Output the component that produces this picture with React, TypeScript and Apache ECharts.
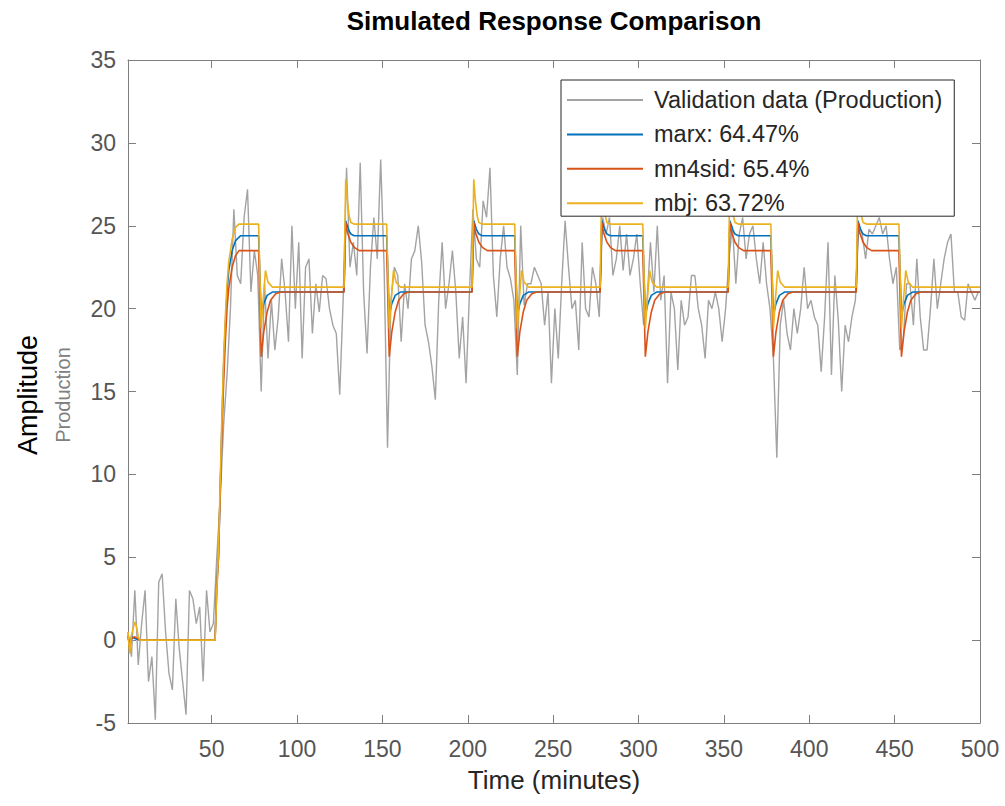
import { useEffect, useRef } from "react";
import * as echarts from "echarts";

const FONT = "'Liberation Sans', Arial, Helvetica, sans-serif";

// Validation data sampled every 2 minutes, starting at t = 1
const validationStart = 1;
const validationStep = 2;
const validationValues = [
  0.5, -1.0, 3.0, -1.5, 1.0, 3.0, -2.5, -1.0, -4.8, 3.5,
  4.0, 0.5, -2.0, -3.0, 2.5, -0.5, -2.5, -4.5, 3.0, 2.5,
  1.0, 2.0, -2.5, 3.0, 0.5, 1.0, 5.0, 8.5, 13.0, 16.0,
  20.0, 26.0, 22.0, 21.5, 25.5, 27.2, 21.0, 23.5, 22.0, 15.0,
  21.5, 17.0, 20.5, 17.5, 19.5, 23.0, 21.0, 18.0, 25.0, 20.0,
  24.0, 17.0, 22.5, 23.0, 18.5, 21.5, 19.8, 22.0, 21.8, 20.0,
  19.0, 18.5, 14.8, 20.5, 28.5, 22.5, 24.0, 22.0, 28.8, 21.0,
  17.3, 22.5, 25.5, 23.0, 29.0, 22.5, 11.6, 20.5, 22.5, 22.0,
  18.0, 21.5, 20.0, 23.0, 23.5, 25.0, 22.8, 19.0, 18.0, 16.5,
  14.5, 20.5, 24.0, 20.0, 21.5, 23.5, 21.0, 17.0, 19.5, 15.5,
  21.0, 26.0, 23.0, 22.5, 26.5, 25.5, 28.5, 22.0, 19.5, 23.0,
  25.0, 22.5, 21.8, 20.5, 16.0, 25.0, 20.2, 21.5, 21.5, 22.5,
  22.0, 21.5, 19.0, 21.0, 15.5, 20.0, 17.0, 21.5, 25.3, 22.5,
  20.0, 20.5, 17.5, 24.0, 20.0, 19.5, 22.5, 21.5, 19.5, 25.5,
  24.5, 25.5, 22.0, 23.0, 25.0, 22.3, 24.5, 22.0, 23.0, 24.5,
  21.5, 19.0, 20.5, 24.0, 21.0, 25.0, 20.5, 22.0, 15.5, 21.0,
  20.0, 16.3, 20.5, 19.0, 19.5, 22.0, 22.0, 20.0, 19.0, 17.0,
  20.5, 20.0, 21.0, 20.0, 18.0, 20.0, 23.0, 25.0, 21.5, 24.5,
  25.5, 23.0, 24.5, 25.0, 23.0, 21.5, 24.0, 21.5, 20.0, 17.0,
  11.0, 19.0, 20.5, 18.5, 17.5, 20.0, 18.5, 20.0, 22.5, 20.0,
  20.5, 19.5, 19.0, 16.2, 19.5, 24.0, 16.0, 22.0, 19.3, 15.0,
  19.0, 18.0, 19.5, 20.5, 25.0, 24.5, 23.0, 24.8, 24.5, 25.0,
  25.5, 24.5, 25.0, 23.0, 21.5, 22.5, 17.5, 18.0, 21.5, 21.5,
  19.0, 23.0, 19.5, 17.5, 17.5, 20.0, 23.0, 20.0, 21.5, 23.0,
  24.0, 24.5, 21.0, 21.0, 19.5, 19.3, 21.5, 21.0, 20.5, 21.0,
];

// Input switching times (minutes)
const upStepTimes = [127.5, 202.5, 277.5, 352.5, 427.5];
const downStepTimes = [77.5, 152.5, 227.5, 302.5, 377.5, 452.5];

// marx: initial part, then response shapes (time offset from the step, value)
const marxStart = [
  [1, 0.2], [2, -0.3], [3, 0.2], [5, 0.1], [8, 0], [52, 0], [53, 3.5], [54, 5],
  [55, 9], [56, 13], [57, 16.5], [58, 19], [59, 21], [60, 22.3], [62, 23.5],
  [64, 24.1], [67, 24.4],
];
const marxUp = [[0, 21.0], [1, 25.3], [2.5, 24.8], [4, 24.5], [6, 24.4]];
const marxDown = [[0, 24.4], [1.5, 19.6], [3, 20.3], [5, 20.8], [8, 21.0]];

const mn4sidStart = [
  [1, 0.3], [2, -0.5], [3, 0.1], [5, 0.2], [8, 0], [52, 0], [53, 3], [54, 5],
  [55, 9], [56, 12.5], [57, 15.5], [58, 18], [59, 20], [60, 21.2], [62, 22.5],
  [64, 23.2], [66, 23.5],
];
const mn4sidUp = [[0, 21.0], [1, 25.2], [2, 24.6], [4, 24.0], [6, 23.7], [9, 23.5]];
const mn4sidDown = [
  [0, 23.5], [1.5, 17.1], [3, 18.6], [5, 19.8], [7, 20.5], [10, 20.9], [13, 21.0],
];

const mbjStart = [
  [1, 0.5], [2, -0.8], [3, 0.3], [5, 1.1], [6, 0.8], [7, 0.2], [8, 0], [52, 0],
  [53, 3], [54, 5.5], [55, 9.5], [56, 13.5], [57, 17], [58, 19.5], [59, 21.5],
  [60, 22.8], [62, 24.2], [64, 24.9], [66, 25.1],
];
const mbjUp = [[0, 21.3], [1, 27.8], [2, 26.5], [3, 25.6], [4, 25.2], [6, 25.1]];
const mbjDown = [
  [0, 25.1], [1.5, 18.8], [2.5, 20.3], [4, 22.3], [5.5, 21.6], [8, 21.3],
];

const xTicks = [50, 100, 150, 200, 250, 300, 350, 400, 450, 500];

const seriesNames = [
  "Validation data (Production)",
  "marx: 64.47%",
  "mn4sid: 65.4%",
  "mbj: 63.72%",
];
const seriesColors = ["#a3a3a3", "#0072BD", "#D95319", "#EDB120"];

function buildModel(start: number[][], up: number[][], down: number[][], endValue: number) {
  const pts: number[][] = start.map((p) => [p[0], p[1]]);
  const events: { t: number; shape: number[][] }[] = [];
  downStepTimes.forEach((t) => events.push({ t, shape: down }));
  upStepTimes.forEach((t) => events.push({ t, shape: up }));
  events.sort((a, b) => a.t - b.t);
  events.forEach((ev) => ev.shape.forEach((p) => pts.push([ev.t + p[0], p[1]])));
  pts.push([500, endValue]);
  return pts;
}

export default function App() {
  const ref = useRef<HTMLDivElement>(null);
  useEffect(() => {
    const chart = echarts.init(ref.current!, null, { renderer: "svg" });
    const validation = validationValues.map((v, i) => [validationStart + i * validationStep, v]);
    const marx = buildModel(marxStart, marxUp, marxDown, 21.0);
    const mn4sid = buildModel(mn4sidStart, mn4sidUp, mn4sidDown, 21.0);
    const mbj = buildModel(mbjStart, mbjUp, mbjDown, 21.3);
    const axisColor = "#7f7f7f";
    const labelColor = "#555555";
    const datas = [validation, marx, mn4sid, mbj];
    const option: any = {
      animation: false,
      backgroundColor: "#ffffff",
      textStyle: { fontFamily: FONT },
      grid: { left: 128, top: 60, width: 852, height: 663, containLabel: false },
      xAxis: [
        {
          type: "value",
          min: 1,
          max: 500,
          position: "bottom",
          axisLine: { show: true, onZero: false, lineStyle: { color: axisColor, width: 1 } },
          axisTick: { show: true, inside: true, length: 8, customValues: xTicks, lineStyle: { color: axisColor } },
          axisLabel: { show: true, customValues: xTicks, color: labelColor, fontSize: 23, margin: 14, fontFamily: FONT },
          splitLine: { show: false },
          name: "Time (minutes)",
          nameLocation: "middle",
          nameGap: 44,
          nameTextStyle: { fontSize: 26, color: "#262626", fontFamily: FONT },
        },
        {
          type: "value",
          min: 1,
          max: 500,
          position: "top",
          axisLine: { show: true, onZero: false, lineStyle: { color: axisColor, width: 1 } },
          axisTick: { show: true, inside: true, length: 8, customValues: xTicks, lineStyle: { color: axisColor } },
          axisLabel: { show: false },
          splitLine: { show: false },
        },
      ],
      yAxis: [
        {
          type: "value",
          min: -5,
          max: 35,
          interval: 5,
          position: "left",
          axisLine: { show: true, onZero: false, lineStyle: { color: axisColor, width: 1 } },
          axisTick: { show: true, inside: true, length: 8, lineStyle: { color: axisColor } },
          axisLabel: { show: true, color: labelColor, fontSize: 23, margin: 12, fontFamily: FONT },
          splitLine: { show: false },
        },
        {
          type: "value",
          min: -5,
          max: 35,
          interval: 5,
          position: "right",
          axisLine: { show: true, onZero: false, lineStyle: { color: axisColor, width: 1 } },
          axisTick: { show: true, inside: true, length: 8, lineStyle: { color: axisColor } },
          axisLabel: { show: false },
          splitLine: { show: false },
        },
      ],
      legend: {
        show: true,
        z: 20,
        orient: "vertical",
        left: 561,
        top: 80,
        icon: "rect",
        itemWidth: 76,
        itemHeight: 2,
        itemGap: 8.4,
        padding: [7, 12, 0, 6],
        backgroundColor: "#ffffff",
        borderColor: "#262626",
        borderWidth: 1,
        selectedMode: false,
        textStyle: { fontSize: 23.5, color: "#262626", fontFamily: FONT, lineHeight: 26, padding: [0, 0, 0, 6] },
        data: seriesNames,
      },
      graphic: [
        {
          type: "text",
          x: 554,
          y: 21,
          style: {
            text: "Simulated Response Comparison",
            fontSize: 26,
            fontWeight: "bold",
            fontFamily: FONT,
            fill: "#000000",
            align: "center",
            verticalAlign: "middle",
          },
        },
        {
          type: "text",
          x: 28,
          y: 395,
          rotation: Math.PI / 2,
          style: {
            text: "Amplitude",
            fontSize: 27,
            fontFamily: FONT,
            fill: "#000000",
            align: "center",
            verticalAlign: "middle",
          },
        },
        {
          type: "text",
          x: 63,
          y: 395,
          rotation: Math.PI / 2,
          style: {
            text: "Production",
            fontSize: 20,
            fontFamily: FONT,
            fill: "#808080",
            align: "center",
            verticalAlign: "middle",
          },
        },
      ],
      series: datas.map((d, i) => ({
        name: seriesNames[i],
        type: "line",
        data: d,
        xAxisIndex: 0,
        yAxisIndex: 0,
        showSymbol: false,
        symbol: "none",
        color: seriesColors[i],
        lineStyle: { color: seriesColors[i], width: i === 0 ? 1.4 : 1.6 },
        z: 2,
      })),
    };
    chart.setOption(option);
    return () => chart.dispose();
  }, []);
  return (
    <div
      ref={ref}
      style={{ position: "fixed", left: 0, top: 0, width: 1005, height: 806, background: "#ffffff" }}
    />
  );
}
